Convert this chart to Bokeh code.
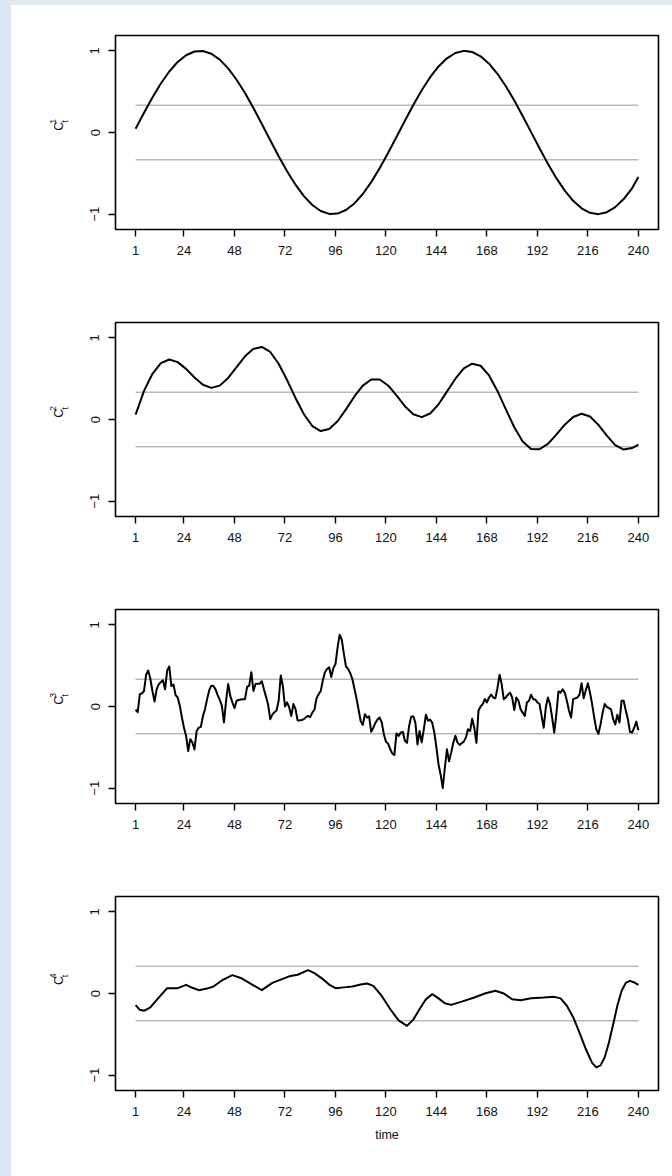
import math
from bokeh.plotting import figure
from bokeh.models import Range1d, FixedTicker
from bokeh.layouts import column, row
from bokeh.core.properties import value
from bokeh.embed import file_html
from bokeh.resources import INLINE

# ---------------- data ----------------
x_ticks = [1, 24, 48, 72, 96, 120, 144, 168, 192, 216, 240]
y_ticks = [-1, 0, 1]
band_x = [1, 240]
band_levels = [1 / 3, -1 / 3]

t_grid = list(range(1, 238, 4)) + [240]

c1 = [0.045, 0.242, 0.429, 0.600, 0.747, 0.864, 0.946, 0.992, 0.998, 0.964,
      0.892, 0.785, 0.646, 0.483, 0.300, 0.105, -0.095, -0.290, -0.474, -0.639,
      -0.779, -0.888, -0.961, -0.997, -0.993, -0.949, -0.869, -0.753, -0.608, -0.438,
      -0.252, -0.055, 0.144, 0.337, 0.517, 0.677, 0.809, 0.909, 0.974, 1.000,
      0.986, 0.933, 0.843, 0.719, 0.567, 0.393, 0.203, 0.005, -0.193, -0.384,
      -0.559, -0.712, -0.837, -0.929, -0.984, -1.000, -0.976, -0.914, -0.815, -0.684,
      -0.545]

c2 = [0.06, 0.35, 0.56, 0.69, 0.735, 0.703, 0.620, 0.514, 0.426, 0.387,
      0.415, 0.509, 0.642, 0.774, 0.865, 0.889, 0.827, 0.683, 0.483, 0.264,
      0.064, -0.080, -0.142, -0.117, -0.021, 0.124, 0.282, 0.415, 0.490, 0.490,
      0.417, 0.295, 0.163, 0.064, 0.029, 0.073, 0.186, 0.341, 0.500, 0.625,
      0.683, 0.658, 0.540, 0.350, 0.124, -0.095, -0.269, -0.362, -0.364, -0.298,
      -0.186, -0.064, 0.031, 0.070, 0.036, -0.066, -0.198, -0.313, -0.368, -0.350,
      -0.308]

t3 = list(range(1, 241))
c3 = [-0.04, -0.07, 0.15, 0.16, 0.19, 0.39, 0.44, 0.34, 0.19, 0.06,
      0.21, 0.27, 0.30, 0.32, 0.21, 0.44, 0.49, 0.25, 0.27, 0.14,
      0.11, 0.01, -0.135, -0.26, -0.36, -0.545, -0.40, -0.44, -0.525, -0.30,
      -0.26, -0.25, -0.12, -0.03, 0.09, 0.20, 0.255, 0.25, 0.21, 0.14,
      0.08, 0.01, -0.195, 0.07, 0.275, 0.13, 0.05, -0.02, 0.07, 0.08,
      0.085, 0.09, 0.09, 0.24, 0.255, 0.42, 0.19, 0.275, 0.28, 0.28,
      0.31, 0.21, 0.12, 0.02, -0.155, -0.10, -0.07, -0.05, 0.07, 0.38,
      0.25, 0.00, 0.05, -0.01, -0.115, 0.03, -0.03, -0.17, -0.17, -0.165,
      -0.155, -0.13, -0.115, -0.13, -0.075, -0.04, 0.10, 0.15, 0.19, 0.32,
      0.42, 0.46, 0.48, 0.36, 0.47, 0.52, 0.72, 0.88, 0.82, 0.645,
      0.49, 0.46, 0.41, 0.34, 0.22, 0.10, -0.04, -0.18, -0.225, -0.095,
      -0.135, -0.12, -0.31, -0.26, -0.20, -0.16, -0.135, -0.195, -0.34, -0.43,
      -0.455, -0.52, -0.575, -0.595, -0.33, -0.36, -0.32, -0.31, -0.42, -0.445,
      -0.24, -0.125, -0.12, -0.20, -0.465, -0.30, -0.44, -0.28, -0.10, -0.175,
      -0.16, -0.20, -0.32, -0.505, -0.71, -0.835, -1.00, -0.75, -0.525, -0.67,
      -0.565, -0.445, -0.36, -0.44, -0.47, -0.45, -0.43, -0.38, -0.28, -0.30,
      -0.15, -0.26, -0.445, -0.05, 0.00, 0.03, 0.09, 0.05, 0.11, 0.145,
      0.11, 0.10, 0.225, 0.39, 0.275, 0.09, 0.11, 0.145, 0.17, 0.11,
      -0.045, 0.11, 0.07, -0.035, -0.075, -0.115, 0.05, 0.07, 0.145, 0.09,
      0.085, 0.05, 0.03, -0.115, -0.26, -0.01, 0.11, 0.03, -0.135, -0.32,
      -0.095, 0.185, 0.17, 0.21, 0.17, 0.07, -0.05, -0.135, 0.09, 0.10,
      0.11, 0.145, 0.285, 0.10, 0.20, 0.285, 0.17, 0.03, -0.135, -0.28,
      -0.335, -0.22, -0.075, 0.03, -0.005, -0.02, -0.035, -0.155, -0.22, -0.10,
      -0.195, 0.07, 0.07, -0.05, -0.155, -0.31, -0.32, -0.26, -0.185, -0.29]

t4 = [1, 3, 5, 8, 12, 16, 21, 25, 28, 31,
      35, 38, 42, 47, 51, 55, 61, 66, 70, 74,
      78, 83, 86, 90, 93, 96, 100, 104, 108, 111,
      114, 118, 122, 126, 130, 133, 136, 139, 142, 145,
      148, 151, 156, 162, 167, 172, 176, 180, 184, 189,
      195, 200, 203, 206, 209, 212, 215, 218, 220, 222,
      224, 226, 228, 230, 232, 234, 236, 238, 240]
c4 = [-0.143, -0.20, -0.212, -0.17, -0.05, 0.065, 0.065, 0.106, 0.07, 0.041,
      0.06, 0.085, 0.16, 0.225, 0.19, 0.13, 0.041, 0.13, 0.17, 0.21,
      0.23, 0.286, 0.25, 0.176, 0.11, 0.065, 0.075, 0.085, 0.11, 0.123,
      0.094, -0.03, -0.19, -0.33, -0.397, -0.32, -0.19, -0.07, -0.008, -0.06,
      -0.12, -0.139, -0.10, -0.049, 0.00, 0.033, 0.00, -0.07, -0.082, -0.057,
      -0.05, -0.041, -0.06, -0.15, -0.29, -0.48, -0.68, -0.85, -0.905, -0.88,
      -0.78, -0.60, -0.38, -0.15, 0.03, 0.13, 0.155, 0.135, 0.106]

panel_index = ["1", "2", "3", "4"]
series = [(t_grid, c1), (t_grid, c2), (t3, c3), (t4, c4)]
x_label = "time"

# ---------------- styling ----------------
FONT = "Liberation Sans"
X0, X1 = -8.56, 249.56
Y0, Y1 = -1.188, 1.188
TOP = 35          # frame top inside each panel
FRAME_H = 194
LAB_W = 80        # width of the y-title strip
TXT = "#111111"


def make_title(idx, h):
    # narrow strip holding the rotated y title  C_t^k
    f = figure(width=LAB_W, height=h, x_range=Range1d(0, LAB_W), y_range=Range1d(0, h),
               output_backend="svg", toolbar_location=None,
               x_axis_location=None, y_axis_location=None,
               min_border_left=0, min_border_right=0, min_border_top=0, min_border_bottom=0)
    f.border_fill_color = None
    f.background_fill_color = None
    f.outline_line_color = None
    f.xgrid.visible = False
    f.ygrid.visible = False
    zero_y = TOP + FRAME_H * Y1 / (Y1 - Y0)       # pixel row of value 0 from top
    f.text(x=[58.5], y=[h - (zero_y + 2.3)], text=["C"], angle=math.pi / 2,
           text_align="center", text_baseline="middle",
           text_font=value(FONT), text_font_size="12.5px", text_color=TXT)
    f.text(x=[52.3], y=[h - (zero_y - 5.0)], text=[idx], angle=math.pi / 2,
           text_align="center", text_baseline="middle",
           text_font=value(FONT), text_font_size="8.5px", text_color=TXT)
    f.text(x=[64.0], y=[h - (zero_y - 5.0)], text=["t"], angle=math.pi / 2,
           text_align="center", text_baseline="middle",
           text_font=value(FONT), text_font_size="8.5px", text_color=TXT)
    return f


def make_panel(t, c, h, last):
    p = figure(width=672 - LAB_W, height=h,
               x_range=Range1d(X0, X1), y_range=Range1d(Y0, Y1),
               output_backend="svg", toolbar_location=None,
               min_border_left=115 - LAB_W, min_border_right=14,
               min_border_top=TOP, min_border_bottom=h - TOP - FRAME_H)
    p.border_fill_color = None
    p.background_fill_color = "white"
    p.outline_line_color = "black"
    p.outline_line_width = 1.6
    p.xgrid.visible = False
    p.ygrid.visible = False

    for lvl in band_levels:
        p.line(band_x, [lvl, lvl], line_color="#b9b9b9", line_width=1.6)
    p.line(t, c, line_color="black", line_width=2.0, line_join="round")

    for ax in (p.xaxis[0], p.yaxis[0]):
        ax.axis_line_color = None
        ax.major_tick_in = 0
        ax.major_tick_out = 7
        ax.major_tick_line_width = 1.4
        ax.major_tick_line_color = "black"
        ax.minor_tick_line_color = None
        ax.major_label_text_font = FONT
        ax.major_label_text_font_size = "13px"
        ax.major_label_text_color = TXT
        ax.major_label_standoff = 9
    p.xaxis[0].ticker = FixedTicker(ticks=x_ticks)
    p.yaxis[0].ticker = FixedTicker(ticks=y_ticks)
    p.yaxis[0].major_label_orientation = "vertical"

    if last:
        p.xaxis[0].axis_label = x_label
        p.xaxis[0].axis_label_text_font = FONT
        p.xaxis[0].axis_label_text_font_size = "12.5px"
        p.xaxis[0].axis_label_text_font_style = "normal"
        p.xaxis[0].axis_label_text_color = TXT
        p.xaxis[0].axis_label_standoff = 9
    return p


rows = []
for i in range(4):
    h = 310 if i == 3 else 287
    rows.append(row(make_title(panel_index[i], h),
                    make_panel(series[i][0], series[i][1], h, i == 3), spacing=0))
layout = column(*rows, spacing=0)

html = file_html(layout, INLINE, title="Components")
style = ("<style>html{background:"
         "linear-gradient(#dce8f3 5px, rgba(255,255,255,0) 5px),"
         "linear-gradient(to right, #dce8f3 11px, #ffffff 11px);}</style>")
html = html.replace("</head>", style + "</head>", 1)
open("out.html", "w").write(html)
